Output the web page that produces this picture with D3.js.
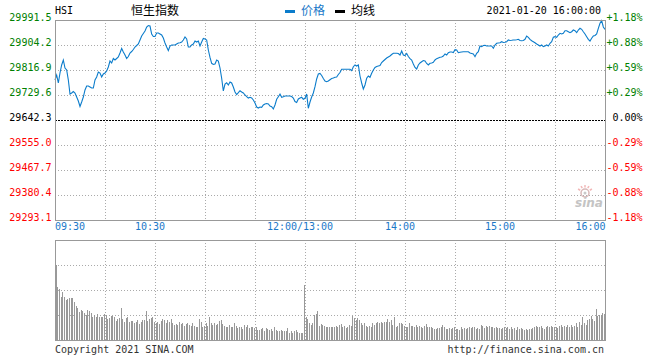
<!DOCTYPE html>
<html><head><meta charset="utf-8">
<script src="https://cdn.jsdelivr.net/npm/d3@7/dist/d3.min.js"></script>
<style>html,body{margin:0;padding:0;background:#fff;} svg{display:block;}</style>
</head><body><svg id="c" width="660" height="360"></svg>
<script>
// ---------- DATA ----------
const symbol = "HSI";
const title = "恒生指数";
const stamp = "2021-01-20 16:00:00";
const prevClose = 29642.3;
const priceTicks = [29991.5, 29904.2, 29816.9, 29729.6, 29642.3, 29555.0, 29467.7, 29380.4, 29293.1];
const pctTicks = ["+1.18%", "+0.88%", "+0.59%", "+0.29%", "0.00%", "-0.29%", "-0.59%", "-0.88%", "-1.18%"];
const timeLabels = ["09:30", "10:30", "12:00/13:00", "14:00", "15:00", "16:00"];
const timeLabelMinutes = [0, 60, 150, 210, 270, 330];
const gridMinutes = [30, 60, 90, 120, 150, 180, 210, 240, 270, 300];
const totalMinutes = 330;

// morning prices, minute 0 (09:30) .. 150 (12:00)
const amPrices = [
29782.0,29799.4,29771.5,29806.4,29834.4,29851.8,29823.9,29816.9,29782.0,29733.1,
29736.6,29741.8,29736.6,29722.6,29708.6,29689.4,29705.2,29722.6,29747.1,29761.0,
29761.0,29757.5,29754.0,29754.0,29782.0,29792.5,29809.9,29806.4,29792.5,29803.0,
29806.4,29813.4,29827.4,29848.3,29841.3,29857.1,29851.8,29857.1,29862.3,29876.3,
29892.0,29879.8,29869.3,29857.1,29864.0,29876.3,29881.5,29888.5,29897.2,29902.5,
29907.7,29921.7,29935.6,29944.4,29953.1,29967.1,29972.3,29970.5,29942.6,29933.9,
29933.9,29946.1,29946.1,29942.6,29939.1,29928.4,29911.2,29897.2,29885.0,29900.7,
29904.2,29904.2,29904.2,29907.7,29911.2,29912.2,29914.7,29921.7,29932.1,29925.2,
29897.2,29897.2,29904.2,29907.7,29918.2,29914.7,29918.2,29900.7,29914.7,29926.9,
29925.2,29921.7,29886.7,29860.6,29840.3,29836.1,29837.9,29851.8,29848.3,29823.9,
29788.0,29743.6,29768.0,29772.5,29764.5,29775.0,29771.5,29757.5,29740.1,29731.3,
29737.6,29744.6,29740.1,29736.6,29729.6,29723.7,29719.1,29721.6,29719.1,29712.1,
29701.7,29687.7,29684.2,29687.7,29686.6,29694.7,29698.2,29699.9,29698.2,29691.2,
29688.7,29680.7,29694.7,29714.6,29723.7,29733.1,29721.6,29723.7,29726.1,29726.1,
29726.1,29726.1,29724.4,29719.1,29706.9,29703.4,29715.6,29719.1,29721.6,29714.6,
29718.1];
// afternoon prices, minute 151 (13:01) .. 330 (16:00)
const pmPrices = [
29733.1,29683.2,29705.2,29722.6,29736.6,29758.6,29785.5,29803.0,29804.7,29797.7,
29787.2,29778.5,29776.0,29778.5,29783.0,29787.2,29789.0,29791.4,29792.5,29801.2,
29808.2,29819.3,29819.3,29819.3,29819.3,29819.3,29819.3,29814.5,29828.4,29834.4,
29830.9,29834.4,29795.9,29771.5,29750.6,29764.5,29788.0,29795.9,29791.4,29805.4,
29817.0,29825.7,29829.2,29830.9,29832.6,29843.1,29848.3,29853.6,29858.8,29862.3,
29865.8,29871.0,29875.2,29875.2,29875.2,29874.5,29869.3,29883.3,29869.3,29867.5,
29874.5,29864.0,29856.4,29851.8,29837.9,29825.7,29820.4,29834.4,29841.3,29845.9,
29850.1,29848.3,29839.6,29834.4,29840.3,29841.3,29843.8,29851.8,29856.4,29858.8,
29861.2,29862.3,29865.8,29872.8,29869.3,29877.3,29879.8,29879.8,29878.0,29887.8,
29886.7,29877.3,29878.7,29879.8,29880.8,29880.8,29880.8,29880.8,29876.3,29874.5,
29872.8,29863.3,29875.2,29880.8,29900.7,29898.3,29902.5,29903.2,29900.7,29900.7,
29900.7,29900.7,29892.7,29904.2,29910.1,29911.2,29912.2,29915.7,29912.9,29913.6,
29915.7,29921.7,29919.9,29920.6,29921.7,29921.7,29922.7,29924.1,29919.9,29919.2,
29919.9,29924.1,29935.6,29931.1,29924.1,29919.2,29915.7,29912.2,29907.7,29904.2,
29900.7,29904.2,29898.3,29900.7,29904.2,29900.7,29910.1,29915.7,29931.1,29933.2,
29931.1,29939.1,29945.1,29942.6,29945.1,29954.1,29954.1,29950.6,29947.2,29950.6,
29956.6,29954.1,29947.2,29956.6,29962.5,29959.0,29950.6,29942.6,29933.2,29924.1,
29918.2,29927.6,29935.6,29937.4,29942.6,29962.5,29980.0,29989.1,29967.1,29959.0];

// relative per-minute volume, minute 1 .. 150
const amVolumes = [
75,53,51,43,48,43,40,41,42,42, 42,38,34,32,28,30,29,27,25,30,
29,27,23,25,23,26,23,23,23,26, 25,21,22,24,24,23,19,21,22,32,
21,18,22,23,18,19,19,17,18,20, 16,18,20,20,29,19,21,22,23,18,
17,18,16,19,21,20,17,20,18,21, 17,15,16,15,18,16,17,14,16,17,
15,14,17,14,13,13,21,18,13,14, 17,14,23,17,15,17,15,16,19,20,
16,14,13,13,15,13,13,17,14,12, 13,13,11,15,13,15,12,13,13,12,
13,10,10,11,12,9,12,11,10,11, 9,13,10,9,9,10,9,9,9,12,
7,9,7,9,10,8,7,7,7,55];
// relative per-minute volume, minute 151 .. 330
const pmVolumes = [
23,21,17,15,17,25,26,29,14,16,15,14,13,13,
13,13,13,13,14,13,15,16,13,14, 12,13,15,14,24,22,20,22,20,17,
15,17,14,13,14,13,17,15,17,18, 17,18,17,18,18,21,18,20,15,23,
13,14,17,17,16,14,13,13,17,14, 14,13,15,13,14,13,12,14,16,13,
13,13,12,11,11,12,12,13,15,13, 11,11,12,11,12,13,11,11,10,13,
11,12,11,12,13,12,13,13,11,12, 11,15,14,12,14,13,14,13,13,12,
13,12,12,11,12,13,12,13,11,13, 11,12,10,13,11,12,11,10,11,10,
11,11,12,13,14,13,13,14,12,11, 13,14,13,14,13,13,13,12,14,15,
13,14,13,15,13,15,13,14,17,13, 18,15,23,17,15,20,21,24,21,19,
31,24,25,25,27,26];

// ---------- DRAW ----------
const svg = d3.select("#c");
const L = 55, R = 605, T = 20, B = 220, VT = 240, VB = 340;
const mono = "'DejaVu Sans Mono', monospace";
const cjk = "'Noto Sans CJK SC', sans-serif";
const blue = "#0b7ccb";
const green = "#008000", red = "#ff0000";
const gridCol = "#aaaaaa", borderCol = "#999999";

const x = d3.scaleLinear().domain([0, totalMinutes]).range([L, R]);
const y = d3.scaleLinear().domain([priceTicks[priceTicks.length - 1], priceTicks[0]]).range([B, T]);
const yv = d3.scaleLinear().domain([0, 100]).range([VB, VT]);
const px = v => Math.round(v) + 0.5;

const prices = amPrices.concat(pmPrices).map((p, i) => ({m: i, p}));
const volumes = amVolumes.concat(pmVolumes).map((v, i) => ({m: i + 1, v}));

// grid - main
const g = svg.append("g").attr("shape-rendering", "crispEdges");
priceTicks.forEach(t => {
  if (t === priceTicks[0] || t === priceTicks[priceTicks.length - 1]) return;
  const isPrev = Math.abs(t - prevClose) < 0.01;
  g.append("line").attr("x1", L).attr("x2", R).attr("y1", px(y(t))).attr("y2", px(y(t)))
    .attr("stroke", isPrev ? "#000" : gridCol).attr("stroke-dasharray", isPrev ? "2,1" : "1,2");
});
gridMinutes.forEach(m => {
  g.append("line").attr("x1", px(x(m))).attr("x2", px(x(m))).attr("y1", T).attr("y2", B)
    .attr("stroke", gridCol).attr("stroke-dasharray", "1,2");
  g.append("line").attr("x1", px(x(m))).attr("x2", px(x(m))).attr("y1", VT).attr("y2", VB)
    .attr("stroke", gridCol).attr("stroke-dasharray", "1,2");
});
[1, 2, 3].forEach(k => {
  const yy = px(yv(25 * k));
  g.append("line").attr("x1", L).attr("x2", R).attr("y1", yy).attr("y2", yy)
    .attr("stroke", gridCol).attr("stroke-dasharray", "1,2");
});

// watermark
const wm = svg.append("g");
wm.append("circle").attr("cx", 585).attr("cy", 193).attr("r", 4).attr("fill", "none").attr("stroke", "#d8b8b8").attr("stroke-width", 1.5);
wm.append("circle").attr("cx", 585).attr("cy", 193).attr("r", 1.5).attr("fill", "#c8c8c8");
[-60, -30, 0, 30, 60].forEach(a => {
  const r1 = 5.5, r2 = 8, rad = (a - 90) * Math.PI / 180;
  wm.append("line").attr("x1", 585 + r1 * Math.cos(rad)).attr("y1", 193 + r1 * Math.sin(rad))
    .attr("x2", 585 + r2 * Math.cos(rad)).attr("y2", 193 + r2 * Math.sin(rad))
    .attr("stroke", "#f2b8b8").attr("stroke-width", 1.5);
});
wm.append("text").attr("x", 575).attr("y", 207).text("sina")
  .attr("font-family", "'DejaVu Sans', sans-serif").attr("font-size", 12).attr("font-weight", "bold")
  .attr("font-style", "italic").attr("fill", "#c4c4c4");

// volume bars
svg.append("g").attr("shape-rendering", "crispEdges").selectAll("rect").data(volumes).join("rect")
  .attr("x", d => Math.round(x(d.m)) - 1).attr("width", 1)
  .attr("y", d => yv(d.v)).attr("height", d => VB - yv(d.v))
  .attr("fill", "#999999");

// price line
svg.append("path").datum(prices)
  .attr("d", d3.line().x(d => x(d.m)).y(d => y(d.p)))
  .attr("fill", "none").attr("stroke", blue).attr("stroke-width", 1.1);

// borders
const bd = svg.append("g").attr("shape-rendering", "crispEdges").attr("fill", "none").attr("stroke", borderCol);
bd.append("rect").attr("x", L + 0.5).attr("y", T + 0.5).attr("width", R - L).attr("height", B - T);
bd.append("rect").attr("x", L + 0.5).attr("y", VT + 0.5).attr("width", R - L).attr("height", VB - VT);

// left & right labels
priceTicks.forEach((t, i) => {
  const col = t > prevClose + 0.01 ? green : (t < prevClose - 0.01 ? red : "#000");
  svg.append("text").attr("x", 51.5).attr("y", y(t) + 0.5).attr("text-anchor", "end")
    .attr("font-family", mono).attr("font-size", 10).attr("fill", col).text(t.toFixed(1));
  svg.append("text").attr("x", 642.5).attr("y", y(t) + 0.5).attr("text-anchor", "end")
    .attr("font-family", mono).attr("font-size", 10).attr("fill", col).text(pctTicks[i]);
});

// time labels
timeLabels.forEach((t, i) => {
  const m = timeLabelMinutes[i];
  let anchor = "middle", xx = x(m) - 5;
  if (i === 0) { anchor = "start"; xx = x(m); }
  if (i === timeLabels.length - 1) { anchor = "end"; xx = x(m) + 0.5; }
  svg.append("text").attr("x", xx).attr("y", 230).attr("text-anchor", anchor)
    .attr("font-family", mono).attr("font-size", 10).attr("fill", "#1a78c8").text(t);
});

// header
svg.append("text").attr("x", 55).attr("y", 14).attr("font-family", mono).attr("font-size", 10).attr("fill", "#000").text(symbol);
svg.append("text").attr("x", 155).attr("y", 14.5).attr("text-anchor", "middle").attr("font-family", cjk).attr("font-size", 12).attr("fill", "#000").text(title);
svg.append("rect").attr("x", 285).attr("y", 10).attr("width", 10).attr("height", 3).attr("fill", blue);
svg.append("text").attr("x", 301).attr("y", 14.5).attr("font-family", cjk).attr("font-size", 12).attr("fill", "#1a78c8").text("价格");
svg.append("rect").attr("x", 335).attr("y", 10).attr("width", 10).attr("height", 3).attr("fill", "#000");
svg.append("text").attr("x", 351).attr("y", 14.5).attr("font-family", cjk).attr("font-size", 12).attr("fill", "#000").text("均线");
svg.append("text").attr("x", 601).attr("y", 14).attr("text-anchor", "end").attr("font-family", mono).attr("font-size", 10).attr("fill", "#000").text(stamp);

// footer
svg.append("text").attr("x", 55).attr("y", 353).attr("font-family", mono).attr("font-size", 10).attr("fill", "#333").text("Copyright 2021 SINA.COM");
svg.append("text").attr("x", 604).attr("y", 353).attr("text-anchor", "end").attr("font-family", mono).attr("font-size", 10).attr("fill", "#333").text("http://finance.sina.com.cn");
</script>
</body></html>
